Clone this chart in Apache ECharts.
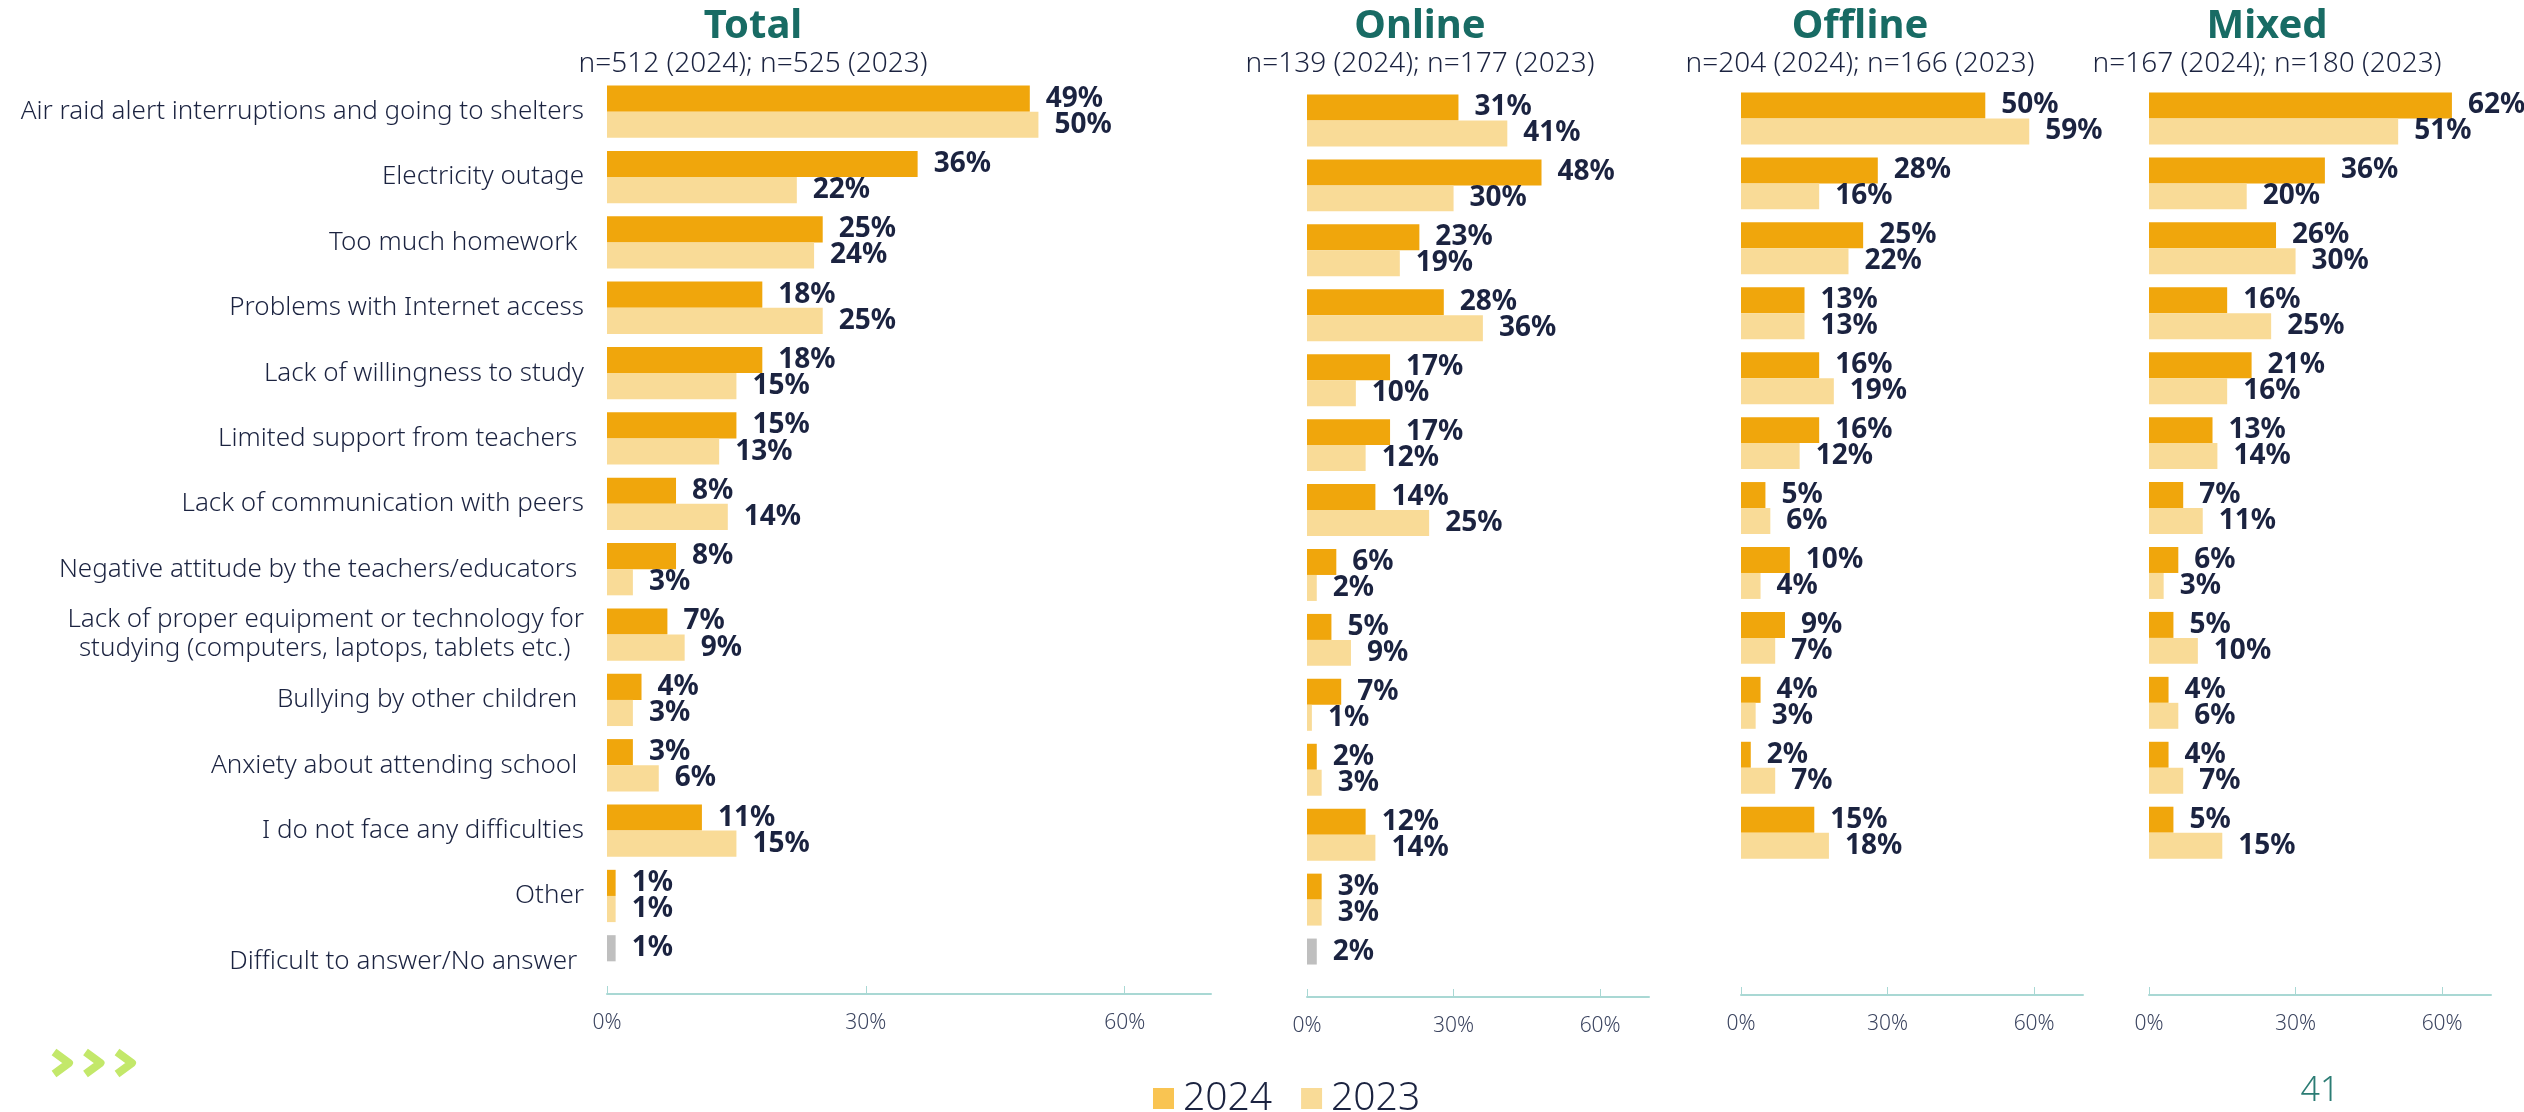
<!DOCTYPE html>
<html>
<head>
<meta charset="utf-8">
<title>Difficulties with studying</title>
<script src="https://cdn.jsdelivr.net/npm/echarts@6/dist/echarts.min.js"></script>
<style>
  html, body { margin: 0; padding: 0; background: #fff; }
  #chart { width: 2524px; height: 1112px; }
</style>
</head>
<body>
<div id="chart"></div>
<script>
var categories = [
  'Air raid alert interruptions and going to shelters',
  'Electricity outage',
  'Too much homework ',
  'Problems with Internet access',
  'Lack of willingness to study',
  'Limited support from teachers ',
  'Lack of communication with peers',
  'Negative attitude by the teachers/educators ',
  'Lack of proper equipment or technology for\nstudying (computers, laptops, tablets etc.)  ',
  'Bullying by other children ',
  'Anxiety about attending school ',
  'I do not face any difficulties',
  'Other',
  'Difficult to answer/No answer '
];

var panelTitles = ['Total', 'Online', 'Offline', 'Mixed'];
var panelSamples = [
  'n=512 (2024); n=525 (2023)',
  'n=139 (2024); n=177 (2023)',
  'n=204 (2024); n=166 (2023)',
  'n=167 (2024); n=180 (2023)'
];

var total2024 = [49, 36, 25, 18, 18, 15, 8, 8, 7, 4, 3, 11, 1, 1];
var total2023 = [50, 22, 24, 25, 15, 13, 14, 3, 9, 3, 6, 15, 1, null];
var online2024 = [31, 48, 23, 28, 17, 17, 14, 6, 5, 7, 2, 12, 3, 2];
var online2023 = [41, 30, 19, 36, 10, 12, 25, 2, 9, 1, 3, 14, 3, null];
var offline2024 = [50, 28, 25, 13, 16, 16, 5, 10, 9, 4, 2, 15, null, null];
var offline2023 = [59, 16, 22, 13, 19, 12, 6, 4, 7, 3, 7, 18, null, null];
var mixed2024 = [62, 36, 26, 16, 21, 13, 7, 6, 5, 4, 4, 5, null, null];
var mixed2023 = [51, 20, 30, 25, 16, 14, 11, 3, 10, 6, 7, 15, null, null];

var xTicks = [0, 30, 60];
var noAnswerIndex = 13;

var data2024 = [total2024, online2024, offline2024, mixed2024];
var data2023 = [total2023, online2023, offline2023, mixed2023];

// layout of the four panels
var grids = [
  { left: 607, top: 79, width: 604, height: 915 },
  { left: 1307, top: 88, width: 342, height: 909 },
  { left: 1741, top: 86, width: 342, height: 909 },
  { left: 2149, top: 86, width: 342, height: 909 }
];
var titleX = [753, 1420, 1860, 2267];

var dark = '#1B2340';
var teal = '#186B64';
var axisColor = '#A9D8D4';

function withGrey(arr) {
  // "Difficult to answer" bar is drawn grey
  return arr.map(function (v, i) {
    if (i === noAnswerIndex && v != null) {
      return { value: v, itemStyle: { color: '#BFBFBF' } };
    }
    return v;
  });
}

var xAxes = [], yAxes = [], series = [], graphics = [];

grids.forEach(function (g, i) {
  xAxes.push({
    type: 'value',
    gridIndex: i,
    min: 0,
    max: 70,
    splitLine: { show: false },
    axisLine: { show: true, lineStyle: { color: axisColor, width: 2 } },
    axisTick: { show: true, inside: true, length: 8, customValues: xTicks, lineStyle: { color: axisColor, width: 1 } },
    axisLabel: {
      customValues: xTicks,
      formatter: '{value}%',
      fontSize: 21,
      fontWeight: 300,
      color: '#3C4560',
      margin: 19
    }
  });
  yAxes.push({
    type: 'category',
    gridIndex: i,
    inverse: true,
    data: categories,
    axisLine: { show: false },
    axisTick: { show: false },
    axisLabel: {
      show: i === 0,
      fontSize: 26,
      fontWeight: 300,
      color: dark,
      margin: 23,
      lineHeight: 29
    }
  });
  var lbl = {
    show: true,
    position: 'right',
    distance: 16,
    formatter: '{c}%',
    fontSize: 28,
    fontWeight: 'bold',
    color: dark
  };
  series.push({
    name: '2024',
    type: 'bar',
    xAxisIndex: i,
    yAxisIndex: i,
    barGap: '0%',
    barCategoryGap: '20%',
    itemStyle: { color: '#F0A60C' },
    label: lbl,
    data: withGrey(data2024[i])
  });
  series.push({
    name: '2023',
    type: 'bar',
    xAxisIndex: i,
    yAxisIndex: i,
    barGap: '0%',
    barCategoryGap: '20%',
    itemStyle: { color: '#F9DB97' },
    label: lbl,
    data: data2023[i]
  });

  graphics.push({
    type: 'text',
    x: titleX[i],
    y: 27,
    style: {
      text: panelTitles[i],
      align: 'center',
      verticalAlign: 'middle',
      fontSize: 40,
      fontWeight: 'bold',
      fontFamily: 'Noto Sans',
      fill: teal
    }
  });
  graphics.push({
    type: 'text',
    x: titleX[i],
    y: 64,
    style: {
      text: panelSamples[i],
      align: 'center',
      verticalAlign: 'middle',
      fontSize: 28,
      fontWeight: 300,
      fontFamily: 'Noto Sans',
      fill: dark
    }
  });
});

// green chevrons, bottom left
[0, 1, 2].forEach(function (k) {
  var x0 = 54 + k * 31.5;
  graphics.push({
    type: 'polyline',
    shape: { points: [[x0, 1052], [x0 + 15, 1063], [x0, 1074]] },
    style: { stroke: '#C3E86A', lineWidth: 8, fill: null, lineJoin: 'round' }
  });
});

// page number
graphics.push({
  type: 'text',
  x: 2320,
  y: 1091,
  style: {
    text: '41',
    align: 'center',
    verticalAlign: 'middle',
    fontSize: 34,
    fontWeight: 300,
    fontFamily: 'Noto Sans',
    fill: '#2B7C74'
  }
});

var chart = echarts.init(document.getElementById('chart'));
var option = {
  animation: false,
  textStyle: { fontFamily: 'Noto Sans' },
  grid: grids,
  xAxis: xAxes,
  yAxis: yAxes,
  legend: {
    left: 1153,
    top: 1079,
    padding: 0,
    icon: 'rect',
    itemWidth: 21,
    itemHeight: 21,
    itemGap: 29,
    textStyle: { fontSize: 39, fontWeight: 300, color: dark, padding: [0, 0, 0, 4] },
    data: [
      { name: '2024', itemStyle: { color: '#F9C452' } },
      { name: '2023', itemStyle: { color: '#F9DB97' } }
    ]
  },
  series: series,
  graphic: graphics
};
chart.setOption(option);
</script>
</body>
</html>
